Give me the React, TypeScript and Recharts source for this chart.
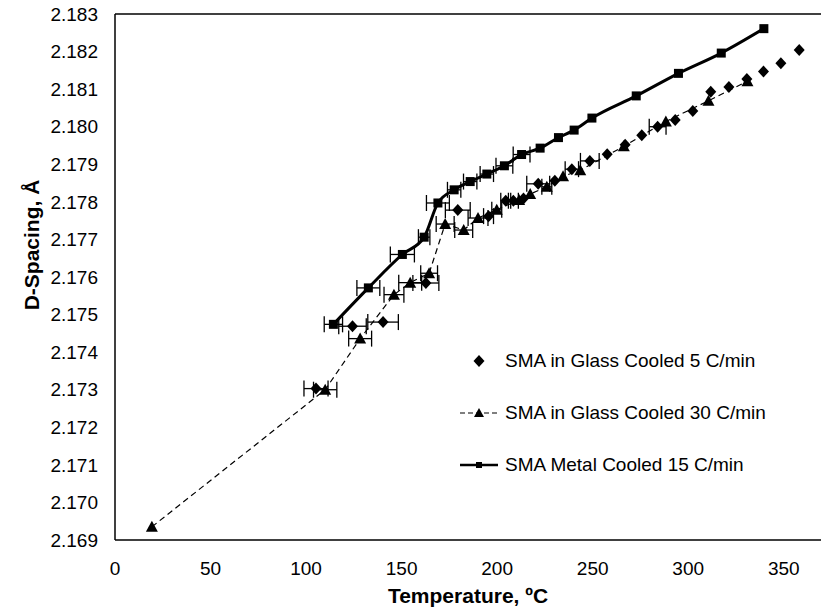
import {
    ScatterChart,
    Scatter,
    XAxis,
    YAxis,
    ErrorBar,
    ReferenceLine,
    Legend,
} from "recharts";

const FONT = '"Liberation Sans", Arial, sans-serif';

// SMA in Glass, cooled 5 C/min (diamonds, no line)
const glass5Temp = [105.2, 124.3, 140.3, 162.7, 179.4, 195.5, 204.5, 208.5, 213.8, 221.5, 230.2, 239.1, 248.5, 257.6, 267.0, 275.7, 284.0, 293.2, 302.4, 311.8, 321.3, 330.7, 339.4, 348.5, 358.1];
const glass5D = [2.17303, 2.17469, 2.1748, 2.17584, 2.17778, 2.17762, 2.17803, 2.17803, 2.17809, 2.17848, 2.17856, 2.17887, 2.17909, 2.17927, 2.17952, 2.17977, 2.18, 2.18018, 2.18042, 2.18093, 2.18106, 2.18127, 2.18147, 2.18169, 2.18204];
const glass5Err = [6.3, 7.2, 8, 6.8, 6.5, 2.6, 2.6, 2.6, null, 6, null, 3.5, 4.9, null, null, null, 4.4, null, null, null, null, null, null, null, null];

// SMA in Glass, cooled 30 C/min (triangles, dashed line)
const glass30Temp = [19.3, 110.0, 128.3, 146.0, 154.5, 164.4, 172.8, 182.5, 190.0, 199.8, 211.5, 217.3, 226.0, 234.5, 243.5, 266.3, 288.3, 310.6, 331.0];
const glass30D = [2.16935, 2.173, 2.17436, 2.17553, 2.17585, 2.1761, 2.17741, 2.17725, 2.17757, 2.17779, 2.17805, 2.17821, 2.1784, 2.17868, 2.17884, 2.17948, 2.18014, 2.18069, 2.18121];
const glass30Err = [null, 6.1, 6, 5.2, 6, 4.4, 4.7, 4.7, 5.2, 2.6, null, null, 2.6, null, null, null, null, null, null];

// SMA Metal, cooled 15 C/min (squares, solid line)
const metalTemp = [114.3, 132.6, 150.4, 161.8, 169.0, 177.5, 185.9, 194.6, 203.8, 212.8, 222.5, 232.1, 240.3, 249.6, 272.8, 294.9, 317.3, 339.6];
const metalD = [2.17474, 2.17571, 2.1766, 2.17706, 2.17797, 2.17832, 2.17854, 2.17874, 2.17896, 2.17926, 2.17943, 2.17971, 2.17991, 2.18023, 2.18082, 2.18142, 2.18196, 2.18261];
const metalErr = [4.8, 6, 6.3, 3, 6, 3.5, 3.5, 3.5, 4.4, 4.4, null, null, null, null, null, null, null, null];

const xTicks = [0, 50, 100, 150, 200, 250, 300, 350];
const yTicks = [2.169, 2.17, 2.171, 2.172, 2.173, 2.174, 2.175, 2.176, 2.177, 2.178, 2.179, 2.18, 2.181, 2.182, 2.183];

const build = (t: number[], d: number[], e: (number | null)[]) =>
    t.map((x, i) => ({ t: x, d: d[i], xe: e[i] }));

const glass5 = build(glass5Temp, glass5D, glass5Err);
const glass30 = build(glass30Temp, glass30D, glass30Err);
const metal = build(metalTemp, metalD, metalErr);

const Diamond = ({ cx, cy }: any) => (
    <polygon points={`${cx},${cy - 6} ${cx + 5.5},${cy} ${cx},${cy + 6} ${cx - 5.5},${cy}`} fill="#000" />
);
const Triangle = ({ cx, cy }: any) => (
    <polygon points={`${cx},${cy - 6} ${cx + 6},${cy + 5} ${cx - 6},${cy + 5}`} fill="#000" />
);
const Square = ({ cx, cy }: any) => <rect x={cx - 4.5} y={cy - 4.5} width={9} height={9} fill="#000" />;

function LegendBox() {
    const rows = [
        { name: "SMA in Glass Cooled 5 C/min", kind: "diamond" },
        { name: "SMA in Glass Cooled 30 C/min", kind: "triangle" },
        { name: "SMA Metal Cooled 15 C/min", kind: "square" },
    ];
    return (
        <div style={{ fontFamily: FONT, fontSize: 19, color: "#000" }}>
            {rows.map((r) => (
                <div key={r.name} style={{ display: "flex", alignItems: "center", height: 52 }}>
                    <svg width={44} height={20} style={{ marginRight: 3 }}>
                        {r.kind === "triangle" && (
                            <line x1={2} y1={10} x2={40} y2={10} stroke="#000" strokeWidth={1.2} strokeDasharray="5 3" />
                        )}
                        {r.kind === "square" && <line x1={2} y1={10} x2={40} y2={10} stroke="#000" strokeWidth={2.5} />}
                        {r.kind === "diamond" && <polygon points="21,4 26.5,10 21,16 15.5,10" fill="#000" />}
                        {r.kind === "triangle" && <polygon points="21,5 26,14 16,14" fill="#000" />}
                        {r.kind === "square" && <rect x={18} y={7} width={6} height={6} fill="#000" />}
                    </svg>
                    <span>{r.name}</span>
                </div>
            ))}
        </div>
    );
}

export default function App() {
    return (
        <div style={{ position: "absolute", left: 0, top: 0, width: 821, height: 611, background: "#fff" }}>
            <ScatterChart width={821} height={611} margin={{ top: 14, right: 0, bottom: 0, left: 55 }}>
                <XAxis
                    type="number"
                    dataKey="t"
                    domain={[0, 369.5]}
                    ticks={xTicks}
                    allowDataOverflow
                    height={71}
                    tickLine={false}
                    tickSize={6}
                    tickMargin={16}
                    axisLine={{ stroke: "#000", strokeWidth: 1.5 }}
                    tick={{ fill: "#000", fontSize: 19, fontFamily: FONT }}
                    label={{
                        value: "Temperature, ºC",
                        position: "insideBottom",
                        offset: 8,
                        style: { fill: "#000", fontSize: 21, fontWeight: "bold", fontFamily: FONT },
                    }}
                />
                <YAxis
                    type="number"
                    dataKey="d"
                    domain={[2.169, 2.183]}
                    ticks={yTicks}
                    allowDataOverflow
                    width={60}
                    tickLine={false}
                    tickSize={6}
                    tickMargin={11}
                    tickFormatter={(v: number) => v.toFixed(3)}
                    axisLine={{ stroke: "#000", strokeWidth: 1.5 }}
                    tick={{ fill: "#000", fontSize: 19, fontFamily: FONT }}
                    label={{
                        content: () => (
                            <text
                                x={31}
                                y={245}
                                transform="rotate(-90, 31, 245)"
                                textAnchor="middle"
                                dominantBaseline="central"
                                style={{ fill: "#000", fontSize: 21, fontWeight: "bold", fontFamily: FONT }}
                            >
                                D-Spacing, Å
                            </text>
                        ),
                    }}
                />
                <ReferenceLine y={2.183} stroke="#000" strokeWidth={1.5} />
                <Legend
                    layout="vertical"
                    align="center"
                    verticalAlign="middle"
                    wrapperStyle={{ left: 458, top: 335, width: 360 }}
                    content={() => <LegendBox />}
                />
                <Scatter
                    name="SMA in Glass Cooled 30 C/min"
                    data={glass30}
                    shape={Triangle}
                    line={{ stroke: "#000", strokeWidth: 1.2, strokeDasharray: "6 4" }}
                    isAnimationActive={false}
                >
                    <ErrorBar dataKey="xe" direction="x" width={8} stroke="#000" strokeWidth={1.3} />
                </Scatter>
                <Scatter
                    name="SMA in Glass Cooled 5 C/min"
                    data={glass5}
                    shape={Diamond}
                    isAnimationActive={false}
                >
                    <ErrorBar dataKey="xe" direction="x" width={8} stroke="#000" strokeWidth={1.3} />
                </Scatter>
                <Scatter
                    name="SMA Metal Cooled 15 C/min"
                    data={metal}
                    shape={Square}
                    line={{ stroke: "#000", strokeWidth: 3 }}
                    lineJointType="monotoneX"
                    isAnimationActive={false}
                >
                    <ErrorBar dataKey="xe" direction="x" width={8} stroke="#000" strokeWidth={1.3} />
                </Scatter>
            </ScatterChart>
        </div>
    );
}
